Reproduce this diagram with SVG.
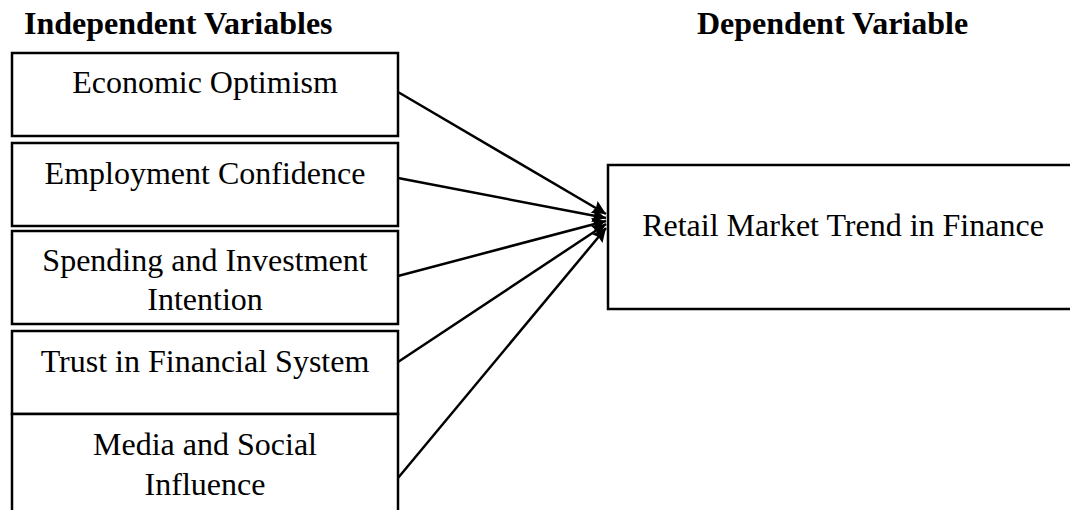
<svg xmlns="http://www.w3.org/2000/svg" width="1070" height="510" viewBox="0 0 1070 510">
  <style>
    .box { fill: #fff; stroke: #000; stroke-width: 2.5; }
    .lbl { font-family: "Liberation Serif", "Times New Roman", serif; font-size: 32px; fill: #000; text-anchor: middle; }
    .head { font-family: "Liberation Serif", "Times New Roman", serif; font-size: 32px; font-weight: bold; fill: #000; }
    .link { stroke: #000; stroke-width: 2.5; fill: none; marker-end: url(#arrow); }
  </style>
  <defs>
    <marker id="arrow" viewBox="0 0 10 10" refX="10" refY="5" markerWidth="6" markerHeight="5.5" orient="auto" markerUnits="strokeWidth">
      <path d="M0,0 L10,5 L0,10 L1.5,5 Z" fill="#000"/>
    </marker>
  </defs>

  <rect width="1070" height="510" fill="#fff"/>

  <text class="head" x="24" y="34">Independent Variables</text>
  <text class="head" x="697" y="34">Dependent Variable</text>

  <g id="economic-optimism">
    <rect class="box" x="12" y="53" width="386" height="83"/>
    <text class="lbl" x="205" y="93">Economic Optimism</text>
  </g>
  <g id="employment-confidence">
    <rect class="box" x="12" y="143" width="386" height="83"/>
    <text class="lbl" x="205" y="184">Employment Confidence</text>
  </g>
  <g id="spending-investment">
    <rect class="box" x="12" y="231" width="386" height="93"/>
    <text class="lbl" x="205" y="271">Spending and Investment</text>
    <text class="lbl" x="205" y="310">Intention</text>
  </g>
  <g id="trust-financial">
    <rect class="box" x="12" y="331" width="386" height="83"/>
    <text class="lbl" x="205" y="372">Trust in Financial System</text>
  </g>
  <g id="media-social">
    <rect class="box" x="12" y="414" width="386" height="110"/>
    <text class="lbl" x="205" y="455">Media and Social</text>
    <text class="lbl" x="205" y="495">Influence</text>
  </g>
  <g id="retail-market-trend">
    <rect class="box" x="608" y="165" width="470" height="144"/>
    <text class="lbl" x="843" y="236">Retail Market Trend in Finance</text>
  </g>

  <g id="connectors">
    <line class="link" x1="398" y1="92" x2="606" y2="214"/>
    <line class="link" x1="398" y1="178" x2="606" y2="218"/>
    <line class="link" x1="398" y1="276" x2="606" y2="221"/>
    <line class="link" x1="398" y1="362" x2="606" y2="224"/>
    <line class="link" x1="398" y1="478" x2="606" y2="228"/>
  </g>
</svg>
